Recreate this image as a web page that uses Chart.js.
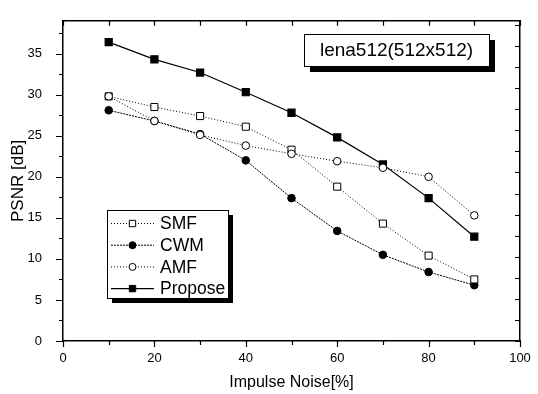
<!DOCTYPE html>
<html>
<head>
<meta charset="utf-8">
<script src="https://cdn.jsdelivr.net/npm/chart.js@4.4.1/dist/chart.umd.min.js"></script>
<style>
  html, body { margin: 0; padding: 0; background: #fff; }
  canvas { display: block; }
</style>
</head>
<body>
<canvas id="psnr-chart" width="538" height="394"></canvas>
<script>
// ── Data ──────────────────────────────────────────────────────────────────────
const noiseLevels = [10, 20, 30, 40, 50, 60, 70, 80, 90];
const smfPsnr     = [29.8, 28.5, 27.4, 26.1, 23.3, 18.8, 14.3, 10.4, 7.5];
const cwmPsnr     = [28.1, 26.8, 25.2, 22.0, 17.4, 13.4, 10.5, 8.4, 6.8];
const amfPsnr     = [29.8, 26.8, 25.1, 23.8, 22.8, 21.9, 21.1, 20.0, 15.3];
const proposePsnr = [36.4, 34.3, 32.7, 30.3, 27.8, 24.8, 21.5, 17.4, 12.7];
const xTickLabels = [0, 20, 40, 60, 80, 100];
const yTickLabels = [0, 5, 10, 15, 20, 25, 30, 35];
const imageLabel  = 'lena512(512x512)';

const FONT = '"Liberation Sans", Arial, sans-serif';
const pts = ys => noiseLevels.map((x, i) => ({ x, y: ys[i] }));

// ── Plugins ───────────────────────────────────────────────────────────────────
// Origin-style tick marks: out on bottom/left, mirrored (in) on top/right
const axisTicks = {
  id: 'axisTicks',
  afterDraw(chart) {
    const { ctx, chartArea: a, scales } = chart;
    ctx.save();
    ctx.strokeStyle = '#000';
    ctx.lineWidth = 1.2;
    ctx.beginPath();
    scales.x.ticks.forEach(t => {
      const px = Math.round(scales.x.getPixelForValue(t.value)) + 0.5;
      const len = xTickLabels.includes(t.value) ? 6 : 4;
      ctx.moveTo(px, a.bottom); ctx.lineTo(px, a.bottom + len);
    });
    scales.x2.ticks.forEach(t => {
      const px = Math.round(scales.x2.getPixelForValue(t.value)) + 0.5;
      ctx.moveTo(px, a.top); ctx.lineTo(px, a.top + 5);
    });
    scales.y.ticks.forEach(t => {
      const py = Math.round(scales.y.getPixelForValue(t.value)) + 0.5;
      const len = yTickLabels.includes(t.value) ? 7 : 4;
      ctx.moveTo(a.left, py); ctx.lineTo(a.left - len, py);
    });
    scales.y2.ticks.forEach(t => {
      const py = Math.round(scales.y2.getPixelForValue(t.value)) + 0.5;
      ctx.moveTo(a.right, py); ctx.lineTo(a.right - 5, py);
    });
    ctx.stroke();
    ctx.restore();
  }
};

function shadowBox(ctx, x, y, w, h, off) {
  ctx.fillStyle = '#000';
  ctx.fillRect(x + off, y + off, w, h);
  ctx.fillStyle = '#fff';
  ctx.fillRect(x, y, w, h);
  ctx.strokeStyle = '#000';
  ctx.lineWidth = 1;
  ctx.strokeRect(x + 0.5, y + 0.5, w, h);
}

function drawMarker(ctx, ds, x, y, r) {
  ctx.beginPath();
  if (ds.pointStyle === 'rect') {
    const s = r * Math.SQRT1_2;
    ctx.rect(x - s, y - s, 2 * s, 2 * s);
  } else {
    ctx.arc(x, y, r, 0, Math.PI * 2);
  }
  ctx.fillStyle = ds.pointBackgroundColor;
  ctx.fill();
  ctx.lineWidth = 1;
  ctx.strokeStyle = '#000';
  ctx.stroke();
}

const boxes = {
  id: 'boxes',
  afterDraw(chart) {
    const { ctx } = chart;
    ctx.save();
    // image label
    shadowBox(ctx, 304, 34, 185, 32, 6);
    ctx.fillStyle = '#000';
    ctx.font = `19px ${FONT}`;
    ctx.textAlign = 'center';
    ctx.textBaseline = 'middle';
    ctx.fillText(imageLabel, 396.5, 51);

    // legend
    shadowBox(ctx, 107, 210, 121, 88, 5);
    ctx.font = `17.5px ${FONT}`;
    ctx.textAlign = 'left';
    chart.data.datasets.forEach((ds, i) => {
      const y = 223.5 + i * 21.7;
      ctx.beginPath();
      ctx.setLineDash(ds.borderDash || []);
      ctx.lineWidth = ds.borderWidth;
      ctx.strokeStyle = '#000';
      ctx.moveTo(111, y); ctx.lineTo(154, y);
      ctx.stroke();
      ctx.setLineDash([]);
      drawMarker(ctx, ds, 132.5, y, ds.pointStyle === 'rect' ? 4.5 : 3.5);
      ctx.fillStyle = '#000';
      ctx.fillText(ds.label, 160, y + 1);
    });
    ctx.restore();
  }
};

// ── Chart ─────────────────────────────────────────────────────────────────────
const borderOpts = { display: true, color: '#000', width: 1.5 };

new Chart(document.getElementById('psnr-chart').getContext('2d'), {
  type: 'line',
  data: {
    datasets: [
      { label: 'SMF', data: pts(smfPsnr), borderColor: '#000', borderWidth: 1, borderDash: [1, 2],
        pointStyle: 'rect', pointRadius: 5, pointBackgroundColor: '#fff', pointBorderColor: '#000', order: 2 },
      { label: 'CWM', data: pts(cwmPsnr), borderColor: '#000', borderWidth: 1, borderDash: [2, 1],
        pointStyle: 'circle', pointRadius: 3.8, pointBackgroundColor: '#000', pointBorderColor: '#000', order: 3 },
      { label: 'AMF', data: pts(amfPsnr), borderColor: '#000', borderWidth: 1, borderDash: [1, 2],
        pointStyle: 'circle', pointRadius: 3.8, pointBackgroundColor: '#fff', pointBorderColor: '#000', order: 1 },
      { label: 'Propose', data: pts(proposePsnr), borderColor: '#000', borderWidth: 1.2,
        pointStyle: 'rect', pointRadius: 5, pointBackgroundColor: '#000', pointBorderColor: '#000', order: 4 },
    ]
  },
  options: {
    responsive: false,
    animation: false,
    layout: { padding: 0 },
    plugins: { legend: { display: false }, tooltip: { enabled: false } },
    elements: { line: { tension: 0 }, point: { borderWidth: 1 } },
    scales: {
      x: {
        type: 'linear', position: 'bottom', min: 0, max: 100,
        grid: { display: false }, border: borderOpts,
        ticks: { stepSize: 10, padding: 2, color: '#000', font: { family: FONT, size: 13 },
          maxRotation: 0, autoSkip: false,
          callback: v => xTickLabels.includes(v) ? String(v) : '' },
        title: { display: true, text: 'Impulse Noise[%]', color: '#000',
          font: { family: FONT, size: 16 }, padding: { top: 0, bottom: 2 } },
        afterFit: s => { s.height = 53; }
      },
      x2: {
        type: 'linear', position: 'top', min: 0, max: 100,
        grid: { display: false }, border: borderOpts,
        ticks: { stepSize: 10, display: false },
        afterFit: s => { s.height = 7; }
      },
      y: {
        type: 'linear', position: 'left', min: 0, max: 39,
        grid: { display: false }, border: borderOpts,
        ticks: { stepSize: 2.5, includeBounds: false, padding: 13, color: '#000',
          font: { family: FONT, size: 13 }, autoSkip: false,
          callback: v => yTickLabels.includes(v) ? String(v) : '' },
        title: { display: true, text: 'PSNR [dB]', color: '#000',
          font: { family: FONT, size: 17 }, padding: { top: 8, bottom: 0 } },
        afterFit: s => { s.width = 63; }
      },
      y2: {
        type: 'linear', position: 'right', min: 0, max: 38,
        grid: { display: false }, border: borderOpts,
        ticks: { stepSize: 2.5, includeBounds: false, display: false },
        afterFit: s => { s.width = 18; }
      }
    }
  },
  plugins: [axisTicks, boxes]
});
</script>
</body>
</html>
